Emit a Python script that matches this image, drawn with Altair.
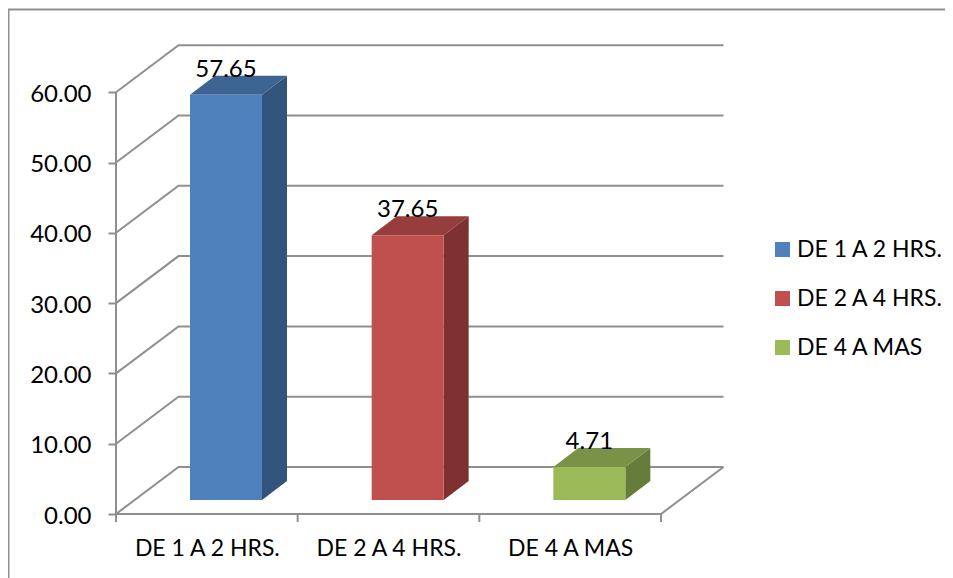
import altair as alt
import pandas as pd

categories = ["DE 1 A 2 HRS.", "DE 2 A 4 HRS.", "DE 4 A MAS"]
values = [57.65, 37.65, 4.71]
y_ticks = [0, 10, 20, 30, 40, 50, 60]
front_colors = ["#4f81bd", "#c0504d", "#9bbb59"]
top_colors = ["#3e6494", "#953e3c", "#799247"]
side_colors = ["#32537b", "#7d3231", "#667c3b"]

FONT = "Lato"
GRID = "#8f8f8f"
FRAME = "#a3a3a3"
W, H = 937, 570
PX_U, PX_V = 181.67, 7.03          # pixels per category, per value unit
X0, Y0 = 116, 514                  # origin, page pixels
WALL_U, WALL_V = 62.5 / PX_U, 47 / PX_V
BAR_LEFT, BAR_W = 74 / PX_U, 72 / PX_U
BAR_DU, BAR_DV = 25 / PX_U, 19 / PX_V
BAR_BASE = 14 / PX_V


def u_of(px):
    return (px - X0) / PX_U


def v_of(py):
    return (Y0 - py) / PX_V


xs = alt.Scale(domain=[u_of(8), u_of(8 + W)], nice=False, zero=False)
ys = alt.Scale(domain=[v_of(8 + H), v_of(8)], nice=False, zero=False)

# Wireframe of the 3D box
seg = []
def add(i, pts):
    for k, (a, b) in enumerate(pts):
        seg.append({"id": i, "k": k, "u": a, "v": b})

n = len(categories)
add("frame", [(u_of(8.5), v_of(8 + H)), (u_of(8.5), v_of(9.5)), (u_of(8 + W), v_of(9.5))])
for t in y_ticks:
    add(f"w{t}", [(0, t), (WALL_U, t + WALL_V), (n + WALL_U, t + WALL_V)])
add("axis", [(0, 0), (0, y_ticks[-1])])
add("floor", [(0, 0), (n, 0), (n + WALL_U, WALL_V)])
for i in range(n + 1):
    add(f"t{i}", [(i, 0), (i, -8 / PX_V)])
grid_df = pd.DataFrame(seg)

labels_expr = " : ".join(
    f"datum.value < {i + 1} ? '{c}'" for i, c in enumerate(categories[:-1])
) + f" : '{categories[-1]}'"

xa = alt.Axis(
    orient="bottom", offset=-(8 + H - Y0), values=[i + 0.5 for i in range(n)],
    labelExpr=labels_expr, ticks=False, domain=False, grid=False, title=None,
    labelFont=FONT, labelFontSize=23, labelColor="#000000", labelPadding=23,
    labelOverlap=False, labelFlush=False)
ya = alt.Axis(
    orient="left", offset=-(X0 - 8), values=y_ticks, format=".2f", domain=False,
    grid=False, title=None, tickSize=8, tickColor=GRID, tickWidth=2,
    labelFont=FONT, labelFontSize=24, labelColor="#000000", labelPadding=17,
    labelOffset=2)

grid = alt.Chart(grid_df).mark_line(color=GRID, strokeWidth=2).encode(
    x=alt.X("u:Q", scale=xs, axis=xa),
    y=alt.Y("v:Q", scale=ys, axis=ya),
    detail="id:N",
    order="k:Q",
)

layers = [grid]

# Bars
front_rows = []
for i, (c, val) in enumerate(zip(categories, values)):
    x0 = i + BAR_LEFT
    x1 = x0 + BAR_W
    vb = BAR_BASE
    vt = BAR_BASE + val
    front_rows.append({"cat": c, "x0": x0, "x1": x1, "v0": vb, "v1": vt})
    side = pd.DataFrame({"u": [x1, x1 + BAR_DU], "lo": [vb, vb + BAR_DV], "hi": [vt, vt + BAR_DV]})
    top = pd.DataFrame({
        "u": [x0, x0 + BAR_DU, x1, x1 + BAR_DU],
        "lo": [vt, vt, vt, vt + BAR_DV],
        "hi": [vt, vt + BAR_DV, vt + BAR_DV, vt + BAR_DV],
    })
    for df, col in ((side, side_colors[i]), (top, top_colors[i])):
        layers.append(alt.Chart(df).mark_area(color=col, opacity=1).encode(
            x=alt.X("u:Q", scale=xs, axis=xa),
            y=alt.Y("lo:Q", scale=ys, axis=ya),
            y2="hi:Q",
        ))

front = alt.Chart(pd.DataFrame(front_rows)).mark_rect().encode(
    x=alt.X("x0:Q", scale=xs, axis=xa),
    x2="x1:Q",
    y=alt.Y("v0:Q", scale=ys, axis=ya),
    y2="v1:Q",
    color=alt.Color("cat:N", scale=alt.Scale(domain=categories, range=front_colors),
                    legend=alt.Legend(
                        title=None, orient="none", legendX=763, legendY=230,
                        symbolType="square", symbolSize=225, symbolStrokeWidth=0,
                        labelFont=FONT, labelFontSize=23, labelColor="#000000",
                        labelOffset=3, rowPadding=25, labelLimit=300)),
)
layers.append(front)

label_df = pd.DataFrame({
    "u": [i + BAR_LEFT + BAR_W / 2 for i in range(n)],
    "v": [val + BAR_BASE + BAR_DV for val in values],
    "t": [f"{val:.2f}" for val in values],
})
labels = alt.Chart(label_df).mark_text(font=FONT, fontSize=24, color="#000000", baseline="alphabetic", align="center", dy=1).encode(
    x=alt.X("u:Q", scale=xs, axis=xa),
    y=alt.Y("v:Q", scale=ys, axis=ya),
    text="t:N",
)
layers.append(labels)

chart = alt.layer(*layers).properties(
    width=W, height=H, padding=0, autosize=alt.AutoSizeParams(type="none"),
    background="#ffffff",
).configure_view(stroke=None)

chart.save("out.html", embed_options={"renderer": "svg", "actions": False})
